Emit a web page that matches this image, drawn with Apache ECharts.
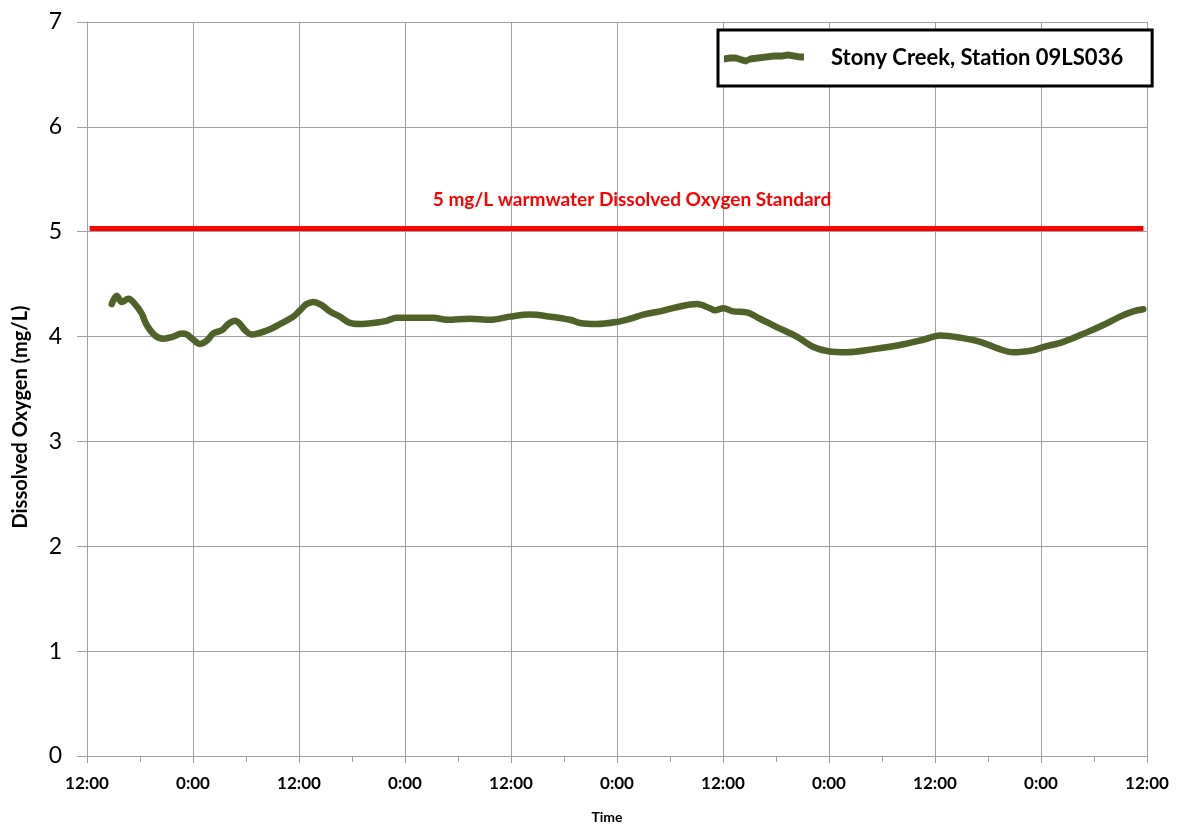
<!DOCTYPE html>
<html>
<head>
<meta charset="utf-8">
<script src="https://cdn.jsdelivr.net/npm/echarts@6/dist/echarts.min.js"></script>
<style>html,body{margin:0;padding:0;background:#fff;}#c{width:1177px;height:827px;}</style>
</head>
<body>
<div id="c"></div>
<script>
// Hours elapsed since the first 12:00 tick
const hours = [2.80,3.36,3.93,4.68,5.43,6.19,6.76,7.70,8.64,9.77,10.72,11.29,12.03,12.79,13.55,14.30,15.25,16.00,16.76,17.32,17.89,18.65,19.39,20.72,21.85,23.36,24.11,24.87,25.62,26.57,27.51,28.64,29.77,30.91,32.41,33.93,35.06,36.94,39.20,40.72,43.36,45.62,47.89,50.15,52.42,54.68,55.81,57.70,59.97,61.47,62.98,64.87,66.76,69.03,70.53,71.10,72.04,73.17,74.69,76.19,78.08,80.35,82.23,83.92,86.01,89.02,92.04,94.68,96.57,98.83,101.10,102.99,104.87,107.13,108.26,110.53,113.18,115.06,116.95,118.45,119.58];
// Dissolved oxygen (mg/L)
const oxygen = [4.31,4.39,4.33,4.36,4.31,4.22,4.11,4.01,3.98,4.00,4.03,4.02,3.97,3.93,3.96,4.03,4.06,4.12,4.15,4.12,4.06,4.02,4.03,4.07,4.12,4.19,4.25,4.31,4.33,4.30,4.24,4.19,4.13,4.12,4.13,4.15,4.18,4.18,4.18,4.16,4.17,4.16,4.19,4.21,4.19,4.16,4.13,4.12,4.14,4.17,4.21,4.24,4.28,4.31,4.27,4.25,4.27,4.24,4.23,4.17,4.09,4.00,3.90,3.86,3.85,3.88,3.92,3.97,4.01,3.99,3.95,3.89,3.85,3.87,3.90,3.95,4.04,4.11,4.19,4.24,4.26,4.25];
// Standard line
const standardHours = [0.3, 119.6];
const standardValues = [5.03, 5.03];
// Tick labels every 12 hours
const xTickLabels = ['12:00','0:00','12:00','0:00','12:00','0:00','12:00','0:00','12:00','0:00','12:00'];
const seriesName = 'Stony Creek, Station 09LS036';
const standardLabel = '5 mg/L warmwater Dissolved Oxygen Standard';

const FONT = 'Lato';
const chart = echarts.init(document.getElementById('c'));
chart.setOption({
  animation: false,
  backgroundColor: '#ffffff',
  grid: {left: 87, right: 30, top: 22, bottom: 71, containLabel: false, outerBoundsMode: 'none'},
  xAxis: {
    type: 'value', min: 0, max: 120, interval: 12,
    name: 'Time', nameLocation: 'middle', nameGap: 54,
    nameTextStyle: {fontFamily: FONT, fontWeight: 'bold', fontSize: 14, color: '#000', padding: [0, 20, 0, 0]},
    axisLine: {show: true, lineStyle: {color: '#a0a0a0', width: 1}},
    axisTick: {show: true, length: 7, lineStyle: {color: '#a0a0a0'}},
    minorTick: {show: true, splitNumber: 2, length: 6, lineStyle: {color: '#a0a0a0'}},
    splitLine: {show: true, lineStyle: {color: '#a0a0a0', width: 1}},
    axisLabel: {
      margin: 19, fontFamily: FONT, fontWeight: 'bold', fontSize: 17, color: '#000',
      formatter: v => xTickLabels[Math.round(v / 12)]
    }
  },
  yAxis: {
    type: 'value', min: 0, max: 7, interval: 1,
    name: 'Dissolved Oxygen (mg/L)', nameLocation: 'middle', nameGap: 56,
    nameTextStyle: {fontFamily: FONT, fontWeight: 'bold', fontSize: 20, color: '#000', padding: [0, 56, 0, 0]},
    axisLine: {show: true, lineStyle: {color: '#a0a0a0', width: 1}},
    axisTick: {show: true, length: 10, lineStyle: {color: '#a0a0a0'}},
    splitLine: {show: true, lineStyle: {color: '#a0a0a0', width: 1}},
    axisLabel: {margin: 25, fontFamily: FONT, fontSize: 23, color: '#000'}
  },
  legend: {
    show: true, left: 718, top: 30,
    data: [{name: seriesName, icon: 'path://M0,9 L6,8 L12,8 L18,10 L22,11 L26,9 L34,8 L42,7 L50,6 L58,6 L64,5 L70,6 L76,7 L80,7 L80,14 L76,14 L70,13 L64,12 L58,13 L50,13 L42,14 L34,15 L26,16 L22,18 L18,17 L12,15 L6,15 L0,16 Z'}],
    itemWidth: 80, itemHeight: 16,
    padding: [17, 29, 17, 6],
    borderColor: '#000', borderWidth: 3, backgroundColor: '#fff',
    textStyle: {fontFamily: FONT, fontWeight: 'bold', fontSize: 22, color: '#000', padding: [0, 0, 0, 22]}
  },
  graphic: [{
    type: 'text', x: 632, y: 200, z: 100,
    style: {text: standardLabel, fontFamily: FONT, fontWeight: 'bold', fontSize: 19, fill: '#ff0000', textAlign: 'center', textVerticalAlign: 'middle'}
  }],
  series: [
    {
      name: 'standard', type: 'line', data: standardHours.map((h, i) => [h, standardValues[i]]),
      symbol: 'none', lineStyle: {color: '#ff0000', width: 5}, z: 3, silent: true
    },
    {
      name: seriesName, type: 'line', data: hours.map((h, i) => [h, oxygen[i]]),
      symbol: 'none', smooth: 0.35, itemStyle: {color: '#4f6228'},
      lineStyle: {color: '#4f6228', width: 6.5, cap: 'round', join: 'round'}, z: 4
    }
  ]
});
</script>
</body>
</html>
